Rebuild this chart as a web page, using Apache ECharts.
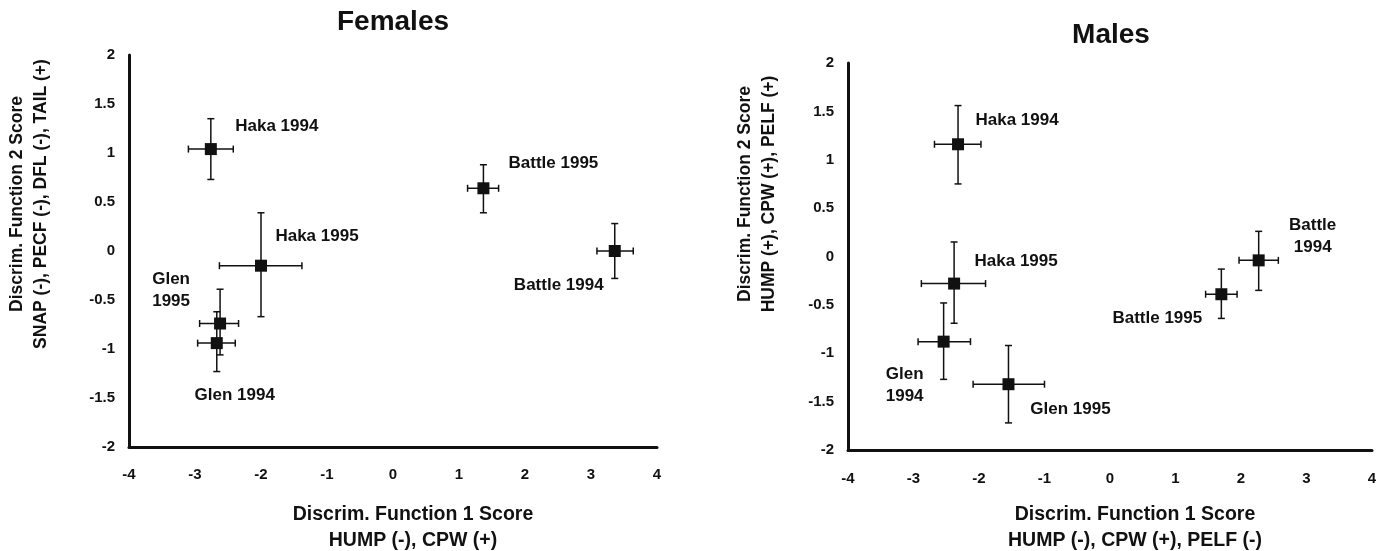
<!DOCTYPE html>
<html>
<head>
<meta charset="utf-8">
<script src="https://cdn.jsdelivr.net/npm/echarts@6/dist/echarts.min.js"></script>
<style>
html,body{margin:0;padding:0;background:#fff;}
#c{width:1387px;height:551px;}
</style>
</head>
<body>
<div id="c"></div>
<script>
// ---- Data ----
const xTicks = [-4, -3, -2, -1, 0, 1, 2, 3, 4];
const yTicks = [-2, -1.5, -1, -0.5, 0, 0.5, 1, 1.5, 2];

const femaleNames = ['Haka 1994', 'Battle 1995', 'Battle 1994', 'Haka 1995', 'Glen\n1995', 'Glen 1994'];
const femaleX     = [-2.76, 1.37, 3.36, -2.00, -2.62, -2.67];
const femaleY     = [1.04, 0.64, 0.00, -0.15, -0.74, -0.94];
const femaleXLow  = [-3.10, 1.13, 3.09, -2.63, -2.93, -2.96];
const femaleXHigh = [-2.42, 1.60, 3.64, -1.38, -2.34, -2.39];
const femaleYLow  = [0.73, 0.39, -0.28, -0.67, -1.06, -1.23];
const femaleYHigh = [1.35, 0.88, 0.28, 0.39, -0.39, -0.62];

const maleNames = ['Haka 1994', 'Haka 1995', 'Glen\n1994', 'Glen 1995', 'Battle 1995', 'Battle\n1994'];
const maleX     = [-2.32, -2.38, -2.54, -1.55, 1.70, 2.27];
const maleY     = [1.16, -0.28, -0.88, -1.32, -0.39, -0.04];
const maleXLow  = [-2.68, -2.88, -2.93, -2.09, 1.46, 1.97];
const maleXHigh = [-1.97, -1.90, -2.13, -1.00, 1.94, 2.57];
const maleYLow  = [0.75, -0.69, -1.27, -1.72, -0.64, -0.35];
const maleYHigh = [1.56, 0.15, -0.48, -0.92, -0.13, 0.26];

// ---- Layout (label offsets in px, relative to the point) ----
const femaleLabelOffsets = [[66, -23], [70, -25], [-56, 34], [56, -29], [-49, -33], [18, 52]];
const maleLabelOffsets   = [[59, -24], [62, -22], [-39, 44], [62, 25], [-64, 24], [54, -24]];

const FONT = '"Liberation Sans", Arial, Helvetica, sans-serif';
const INK = '#111111';

function build(names, xs, ys, xl, xh, yl, yh) {
  return names.map((n, i) => [xs[i], ys[i], xl[i], xh[i], yl[i], yh[i]]);
}

function renderErr(params, api) {
  const x = api.value(0), y = api.value(1);
  const xlo = api.value(2), xhi = api.value(3), ylo = api.value(4), yhi = api.value(5);
  const pl = api.coord([xlo, y]), ph = api.coord([xhi, y]);
  const vl = api.coord([x, ylo]), vh = api.coord([x, yhi]);
  const cap = 3.5;
  const st = { stroke: INK, lineWidth: 1.5 };
  const line = (x1, y1, x2, y2) => ({ type: 'line', shape: { x1, y1, x2, y2 }, style: st });
  return {
    type: 'group',
    children: [
      line(pl[0], pl[1], ph[0], ph[1]),
      line(pl[0], pl[1] - cap, pl[0], pl[1] + cap),
      line(ph[0], ph[1] - cap, ph[0], ph[1] + cap),
      line(vl[0], vl[1], vh[0], vh[1]),
      line(vl[0] - cap, vl[1], vl[0] + cap, vl[1]),
      line(vh[0] - cap, vh[1], vh[0] + cap, vh[1])
    ]
  };
}

function axisX(gi, margin) {
  return {
    gridIndex: gi, type: 'value', min: xTicks[0], max: xTicks[xTicks.length - 1], interval: 1,
    axisLine: { onZero: false, lineStyle: { color: INK, width: 3 } },
    axisTick: { show: false }, splitLine: { show: false },
    axisLabel: { color: INK, fontFamily: FONT, fontWeight: 'bold', fontSize: 15, margin: margin }
  };
}
function axisY(gi, margin) {
  return {
    gridIndex: gi, type: 'value', min: yTicks[0], max: yTicks[yTicks.length - 1], interval: 0.5,
    axisLine: { onZero: false, lineStyle: { color: INK, width: 3 } },
    axisTick: { show: false }, splitLine: { show: false },
    axisLabel: { color: INK, fontFamily: FONT, fontWeight: 'bold', fontSize: 15, margin: margin }
  };
}

function pointSeries(gi, names, xs, ys, offsets) {
  return {
    type: 'scatter', xAxisIndex: gi, yAxisIndex: gi, z: 5,
    symbol: 'rect', symbolSize: 12,
    itemStyle: { color: INK, opacity: 1 },
    emphasis: { disabled: true },
    data: names.map((n, i) => ({
      value: [xs[i], ys[i]],
      label: {
        show: true, formatter: n, position: 'inside', offset: offsets[i],
        color: INK, opacity: 1, fontFamily: FONT, fontWeight: 'bold', fontSize: 17, lineHeight: 22, align: 'center'
      }
    })),
    silent: true
  };
}

const chart = echarts.init(document.getElementById('c'), null, { renderer: 'canvas' });
const titleStyle = { fontFamily: FONT, fontWeight: 'bold', fontSize: 28, fill: INK, textAlign: 'center', textVerticalAlign: 'middle' };
const axTitleX = { fontFamily: FONT, fontWeight: 'bold', fontSize: 19.5, fill: INK, textAlign: 'center', textVerticalAlign: 'middle', lineHeight: 26 };
const axTitleY = { fontFamily: FONT, fontWeight: 'bold', fontSize: 17.5, fill: INK, textAlign: 'center', textVerticalAlign: 'middle', lineHeight: 24 };

chart.setOption({
  animation: false,
  backgroundColor: '#fff',
  grid: [
    { left: 129, top: 55, width: 528, height: 392 },
    { left: 848, top: 63, width: 524, height: 387 }
  ],
  xAxis: [axisX(0, 20), axisX(1, 21)],
  yAxis: [axisY(0, 14), axisY(1, 14)],
  graphic: [
    { type: 'text', x: 393, y: 22, style: Object.assign({ text: 'Females' }, titleStyle) },
    { type: 'text', x: 1111, y: 35, style: Object.assign({ text: 'Males' }, titleStyle) },
    { type: 'text', x: 413, y: 528, style: Object.assign({ text: 'Discrim. Function 1 Score\nHUMP (-), CPW (+)' }, axTitleX) },
    { type: 'text', x: 1135, y: 528, style: Object.assign({ text: 'Discrim. Function 1 Score\nHUMP (-), CPW (+), PELF (-)' }, axTitleX) },
    { type: 'text', x: 29, y: 204, rotation: Math.PI / 2, style: Object.assign({ text: 'Discrim. Function 2 Score\nSNAP (-), PECF (-), DFL (-), TAIL (+)' }, axTitleY) },
    { type: 'text', x: 757, y: 194, rotation: Math.PI / 2, style: Object.assign({ text: 'Discrim. Function 2 Score\nHUMP (+), CPW (+), PELF (+)' }, axTitleY) }
  ],
  series: [
    {
      type: 'custom', xAxisIndex: 0, yAxisIndex: 0, z: 3, silent: true,
      renderItem: renderErr, encode: { x: 0, y: 1 },
      data: build(femaleNames, femaleX, femaleY, femaleXLow, femaleXHigh, femaleYLow, femaleYHigh)
    },
    {
      type: 'custom', xAxisIndex: 1, yAxisIndex: 1, z: 3, silent: true,
      renderItem: renderErr, encode: { x: 0, y: 1 },
      data: build(maleNames, maleX, maleY, maleXLow, maleXHigh, maleYLow, maleYHigh)
    },
    pointSeries(0, femaleNames, femaleX, femaleY, femaleLabelOffsets),
    pointSeries(1, maleNames, maleX, maleY, maleLabelOffsets)
  ]
});
</script>
</body>
</html>
